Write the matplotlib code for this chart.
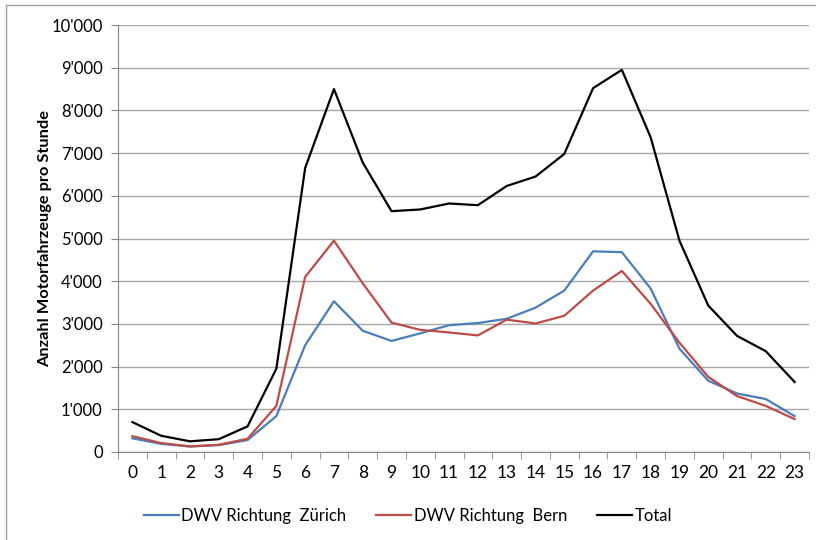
import numpy as np
import matplotlib.pyplot as plt
from matplotlib.ticker import FuncFormatter, FixedLocator
from matplotlib.patches import Rectangle

plt.rcParams['font.family'] = ['Lato', 'DejaVu Sans']

hours = list(range(24))
zuerich = [320, 190, 130, 160, 280, 840, 2500, 3530, 2840, 2600, 2780, 2970,
           3020, 3120, 3380, 3780, 4700, 4680, 3830, 2420, 1670, 1370, 1240, 840]
bern = [370, 210, 130, 170, 310, 1080, 4100, 4950, 3950, 3030, 2860, 2800,
        2730, 3100, 3010, 3190, 3780, 4240, 3470, 2560, 1760, 1310, 1080, 770]
total = [700, 380, 250, 300, 600, 1950, 6650, 8500, 6780, 5640, 5680, 5820,
         5780, 6230, 6450, 6980, 8520, 8950, 7370, 4950, 3430, 2720, 2360, 1640]

fig = plt.figure(figsize=(8.16, 5.4), dpi=100)
ax = fig.add_axes([118/816, 88/540, 691/816, 427/540])

ax.plot(hours, zuerich, color='#4a7ebb', lw=1.6, label='DWV Richtung  Zürich')
ax.plot(hours, bern, color='#be4b48', lw=1.6, label='DWV Richtung  Bern')
ax.plot(hours, total, color='black', lw=1.6, label='Total')

ax.set_xlim(-0.5, 23.5)
ax.set_ylim(0, 10000)
ax.set_yticks(range(0, 10001, 1000))
ax.yaxis.set_major_formatter(FuncFormatter(lambda v, p: f"{int(v):,}".replace(',', "'")))
ax.set_xticks(hours)
ax.xaxis.set_minor_locator(FixedLocator(np.arange(-0.5, 24, 1)))
ax.tick_params(axis='x', which='major', length=0, pad=9, labelsize=12.5)
ax.tick_params(axis='x', which='minor', length=5, color='#868686', direction='out')
ax.tick_params(axis='y', length=5, color='#868686', labelsize=12, pad=6)

ax.grid(axis='y', color='#a6a6a6', lw=1)
ax.set_axisbelow(True)
for s in ['top', 'right']:
    ax.spines[s].set_visible(False)
for s in ['left', 'bottom']:
    ax.spines[s].set_color('#868686')

ax.set_ylabel('Anzahl Motorfahrzeuge pro Stunde', fontsize=11.8, fontweight='bold')
ax.yaxis.set_label_coords(-0.095, 0.5)

fig.legend(loc='center', bbox_to_anchor=(0.5, 24/540), ncol=3, frameon=False,
           fontsize=12, handlelength=2.1, handletextpad=0.15, columnspacing=1.8)

# Rahmen oben und links (rechts/unten abgeschnitten)
fig.patches.append(Rectangle((6/816, -10/540), 830/816, 545/540, transform=fig.transFigure,
                             fill=False, edgecolor='#a0a0a0', lw=1))

fig.savefig('out.png', dpi=100)
